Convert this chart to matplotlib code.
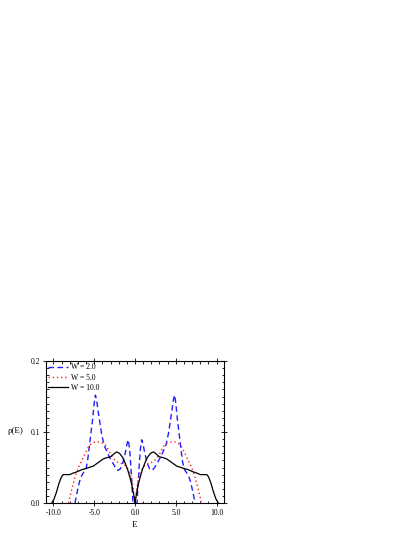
import numpy as np
import matplotlib
matplotlib.use('Agg')
import matplotlib.pyplot as plt
from matplotlib.ticker import MultipleLocator, FormatStrFormatter

plt.rcParams['font.family'] = ['Liberation Serif', 'DejaVu Serif']

# density of states
e_w2 = [-7.35, -7.1, -6.8, -6.6, -6.3, -6.0, -5.8, -5.6, -5.4, -5.2, -5.0, -4.85,
        -4.7, -4.5, -4.35, -4.1, -3.8, -3.5, -3.2, -2.8, -2.4, -2.1, -1.8, -1.5,
        -1.2, -1.0, -0.82, -0.65, -0.5, -0.35, -0.25,
        0.25, 0.35, 0.5, 0.65, 0.82, 1.0, 1.2, 1.5, 1.8, 2.1, 2.4, 2.8, 3.2, 3.5,
        3.8, 4.1, 4.35, 4.5, 4.7, 4.85, 5.0, 5.2, 5.4, 5.6, 5.8, 6.0, 6.3, 6.6,
        6.8, 7.1, 7.35]
rho_w2 = [0.0, 0.015, 0.03, 0.037, 0.043, 0.048, 0.06, 0.079, 0.098, 0.117, 0.14, 0.152,
          0.145, 0.128, 0.117, 0.098, 0.082, 0.074, 0.066, 0.058, 0.05, 0.046, 0.048, 0.056,
          0.07, 0.082, 0.089, 0.075, 0.05, 0.02, 0.0,
          0.0, 0.02, 0.05, 0.075, 0.089, 0.082, 0.07, 0.056, 0.048, 0.046, 0.05, 0.058,
          0.066, 0.074, 0.082, 0.098, 0.117, 0.128, 0.145, 0.152, 0.14, 0.117, 0.098,
          0.079, 0.06, 0.048, 0.043, 0.037, 0.03, 0.015, 0.0]

e_w5 = [-8.15, -7.9, -7.6, -7.3, -6.9, -6.5, -6.1, -5.7, -5.3, -4.9, -4.5, -4.1,
        -3.7, -3.4, -3.0, -2.6, -2.2, -1.8, -1.4, -1.0, -0.6, -0.35, -0.15, -0.05,
        0.05, 0.15, 0.35, 0.6, 1.0, 1.4, 1.8, 2.2, 2.6, 3.0, 3.4, 3.7, 4.1, 4.5,
        4.9, 5.3, 5.7, 6.1, 6.5, 6.9, 7.3, 7.6, 7.9, 8.15]
rho_w5 = [0.0, 0.012, 0.026, 0.038, 0.051, 0.06, 0.07, 0.079, 0.084, 0.086, 0.086, 0.085,
          0.083, 0.078, 0.069, 0.062, 0.058, 0.056, 0.055, 0.05, 0.042, 0.03, 0.015, 0.0,
          0.0, 0.015, 0.03, 0.042, 0.05, 0.055, 0.056, 0.058, 0.062, 0.069, 0.078,
          0.083, 0.085, 0.086, 0.086, 0.084, 0.079, 0.07, 0.06, 0.051, 0.038, 0.026,
          0.012, 0.0]

e_w10 = [-10.2, -9.9, -9.6, -9.3, -9.0, -8.8, -8.4, -8.0, -7.6, -7.1, -6.5, -5.9,
         -5.1, -4.5, -3.9, -3.4, -3.0, -2.6, -2.25, -1.9, -1.5, -1.2, -0.9, -0.6,
         -0.4, -0.2, -0.05, 0.0,
         0.05, 0.2, 0.4, 0.6, 0.9, 1.2, 1.5, 1.9, 2.25, 2.6, 3.0, 3.4, 3.9, 4.5,
         5.1, 5.9, 6.5, 7.1, 7.6, 8.0, 8.4, 8.8, 9.0, 9.3, 9.6, 9.9, 10.2]
rho_w10 = [0.0, 0.006, 0.016, 0.028, 0.037, 0.04, 0.04, 0.04, 0.042, 0.044, 0.047, 0.049,
           0.052, 0.057, 0.062, 0.064, 0.065, 0.069, 0.072, 0.07, 0.064, 0.056, 0.047, 0.035,
           0.026, 0.014, 0.004, 0.0,
           0.004, 0.014, 0.026, 0.035, 0.047, 0.056, 0.064, 0.07, 0.072, 0.069, 0.065,
           0.064, 0.062, 0.057, 0.052, 0.049, 0.047, 0.044, 0.042, 0.04, 0.04, 0.04,
           0.037, 0.028, 0.016, 0.006, 0.0]

fig = plt.figure(figsize=(4.15, 5.37), dpi=100)
ax = fig.add_axes([46 / 415, 1 - 503 / 537, 178 / 415, 142 / 537])

ax.plot(e_w2, rho_w2, color='#1f1fff', ls=(0, (4, 2.5)), lw=1.0, label='W = 2.0')
ax.plot(e_w5, rho_w5, color='#ff2020', ls=(0, (1, 2)), lw=1.0, label='W = 5.0')
ax.plot(e_w10, rho_w10, color='black', ls='-', lw=0.9, label='W = 10.0')

ax.set_xlim(-10.9, 10.9)
ax.set_ylim(0, 0.2)
ax.xaxis.set_major_locator(MultipleLocator(5))
ax.xaxis.set_minor_locator(MultipleLocator(1))
ax.yaxis.set_major_locator(MultipleLocator(0.1))
ax.yaxis.set_minor_locator(MultipleLocator(0.01))
ax.xaxis.set_major_formatter(FormatStrFormatter('%.1f'))
ax.yaxis.set_major_formatter(FormatStrFormatter('%.1f'))
ax.tick_params(which='both', top=True, right=True, labelsize=5.5, width=0.6)
ax.tick_params(which='major', direction='inout', length=5, pad=1.5)
ax.tick_params(which='minor', direction='in', length=1.8)
for s in ax.spines.values():
    s.set_linewidth(0.8)

ax.set_xlabel('E', fontsize=6.5)
ax.xaxis.set_label_coords(0.5, -0.13)
ax.set_ylabel('ρ(E)', fontsize=6.5, rotation=0, va='center', ha='center')
ax.yaxis.set_label_coords(-0.175, 0.507)

ax.legend(loc='upper left', frameon=False, fontsize=5.5, handlelength=2.6,
          handletextpad=0.4, labelspacing=0.3, borderaxespad=0.2, borderpad=0.1)

fig.savefig('out.png', dpi=100)
